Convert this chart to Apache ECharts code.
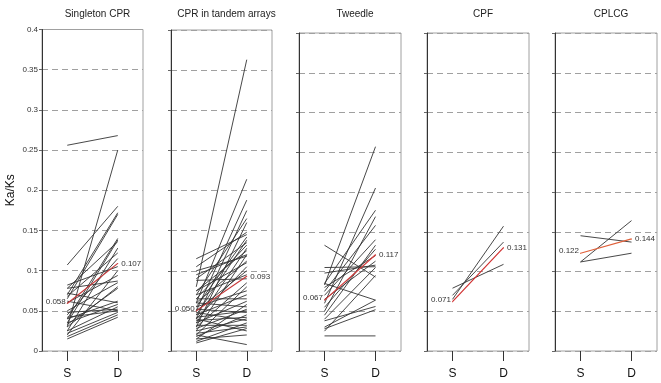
<!DOCTYPE html>
<html>
<head>
<meta charset="utf-8">
<script src="https://cdn.jsdelivr.net/npm/echarts@6/dist/echarts.min.js"></script>
<style>html,body{margin:0;padding:0;background:#fff;}#c{width:661px;height:383px;}</style>
</head>
<body>
<div id="c"></div>
<script>
var panelTitles = ['Singleton CPR', 'CPR in tandem arrays', 'Tweedle', 'CPF', 'CPLCG'];
var categories = ['S', 'D'];
var yTicks = [0, 0.05, 0.1, 0.15, 0.2, 0.25, 0.3, 0.35, 0.4];

// Per-gene Ka/Ks pairs: S value, D value
var singletonS = [0.256,0.030,0.107,0.070,0.065,0.040,0.035,0.078,0.025,0.068,0.045,0.082,0.020,0.060,0.078,0.050,0.030,0.072,0.040,0.035,0.048,0.025,0.042,0.022,0.018,0.015,0.062,0.033];
var singletonD = [0.268,0.250,0.180,0.172,0.170,0.140,0.138,0.136,0.128,0.122,0.115,0.105,0.100,0.094,0.087,0.085,0.080,0.060,0.062,0.058,0.052,0.055,0.050,0.048,0.045,0.042,0.050,0.078];

var tandemS = [0.080,0.060,0.050,0.040,0.070,0.030,0.115,0.105,0.055,0.045,0.090,0.065,0.035,0.075,0.025,0.100,0.060,0.088,0.040,0.050,0.070,0.030,0.020,0.055,0.045,0.065,0.035,0.015,0.060,0.028,0.042,0.052,0.018,0.038,0.025,0.048,0.012,0.032,0.022,0.040,0.015,0.020,0.095,0.075,0.010];
var tandemD = [0.363,0.214,0.188,0.175,0.165,0.160,0.145,0.148,0.142,0.138,0.135,0.132,0.128,0.125,0.120,0.118,0.112,0.090,0.105,0.100,0.095,0.085,0.080,0.075,0.070,0.065,0.062,0.058,0.055,0.052,0.050,0.048,0.045,0.042,0.040,0.038,0.035,0.032,0.030,0.025,0.020,0.008,0.120,0.110,0.028];

var tweedleS = [0.133,0.105,0.098,0.083,0.060,0.085,0.050,0.075,0.070,0.045,0.055,0.080,0.065,0.040,0.085,0.030,0.038,0.019,0.028,0.025];
var tweedleD = [0.093,0.106,0.108,0.257,0.205,0.177,0.169,0.158,0.140,0.133,0.128,0.120,0.113,0.105,0.064,0.064,0.056,0.019,0.052,0.095];

var cpfS = [0.065,0.070,0.079];
var cpfD = [0.157,0.137,0.109];

var cplcgS = [0.145,0.112,0.112];
var cplcgD = [0.137,0.164,0.123];

// Mean lines (red) and their labels
var meanS = [0.059,0.050,0.064,0.062,0.123];
var meanD = [0.109,0.093,0.121,0.130,0.141];
var meanLabelS = ['0.058','0.050','0.067','0.071','0.122'];
var meanLabelD = ['0.107','0.093','0.117','0.131','0.144'];

var pairsS = [singletonS, tandemS, tweedleS, cpfS, cplcgS];
var pairsD = [singletonD, tandemD, tweedleD, cpfD, cplcgD];

var gridPos = [
  {left: 42, top: 29.5, width: 101, height: 321.5},
  {left: 171, top: 30, width: 101, height: 321},
  {left: 299, top: 33, width: 102, height: 318},
  {left: 427, top: 33, width: 102, height: 318},
  {left: 555, top: 33, width: 102, height: 318}
];
var redColors = ['#c8393a','#c8393a','#d23a3a','#d03030','#e0603a'];
var FONT = 'Liberation Sans, Arial, sans-serif';

var grids = [], xAxes = [], yAxes = [], titles = [], series = [];
for (var i = 0; i < 5; i++) {
  var g = gridPos[i];
  grids.push({left: g.left, top: g.top, width: g.width, height: g.height, show: true, borderColor: '#a0a0a0', borderWidth: 1, containLabel: false});
  titles.push({text: panelTitles[i], left: g.left + g.width / 2, top: 4, textAlign: 'center',
    textStyle: {fontSize: 10, fontWeight: 'normal', color: '#222', fontFamily: FONT}});
  xAxes.push({type: 'category', gridIndex: i, data: categories, boundaryGap: true,
    axisLine: {show: false},
    axisTick: {show: true, alignWithLabel: true, length: 10, lineStyle: {color: '#333'}},
    axisLabel: {margin: 17, fontSize: 12, color: '#111', fontFamily: FONT},
    splitLine: {show: false}});
  yAxes.push({type: 'value', gridIndex: i, min: 0, max: 0.4, interval: 0.05,
    name: i === 0 ? 'Ka/Ks' : '', nameLocation: 'middle', nameGap: 25,
    nameTextStyle: {fontSize: 12, color: '#111', fontFamily: FONT},
    axisLine: {show: true, lineStyle: {color: '#333', width: 1}},
    axisTick: {show: true, length: 3, lineStyle: {color: '#666'}},
    axisLabel: {show: i === 0, fontSize: 8, color: '#333', margin: 4, fontFamily: FONT,
      formatter: function (v) { return String(+v.toFixed(2)); }},
    splitLine: {show: true, lineStyle: {color: '#a0a0a0', type: [6, 4], width: 1}}});
  var S = pairsS[i], D = pairsD[i];
  for (var k = 0; k < S.length; k++) {
    series.push({type: 'line', xAxisIndex: i, yAxisIndex: i, data: [S[k], D[k]], symbol: 'none',
      silent: true, animation: false, z: 2,
      lineStyle: {color: '#333', width: 0.9}});
  }
  series.push({type: 'line', xAxisIndex: i, yAxisIndex: i, symbol: 'circle', symbolSize: 1, showSymbol: true,
    silent: true, animation: false, z: 5,
    itemStyle: {color: redColors[i]},
    lineStyle: {color: redColors[i], width: 1.2},
    data: [
      {value: meanS[i], label: {show: true, position: 'left', distance: 1, offset: [0, -2], formatter: meanLabelS[i], fontSize: 8, color: '#333', fontFamily: FONT}},
      {value: meanD[i], label: {show: true, position: 'right', distance: 3, formatter: meanLabelD[i], fontSize: 8, color: '#333', fontFamily: FONT}}
    ]
  });
}

var chart = echarts.init(document.getElementById('c'), null, {renderer: 'canvas'});
chart.setOption({
  animation: false,
  backgroundColor: '#fff',
  title: titles,
  grid: grids,
  xAxis: xAxes,
  yAxis: yAxes,
  series: series
});
</script>
</body>
</html>
